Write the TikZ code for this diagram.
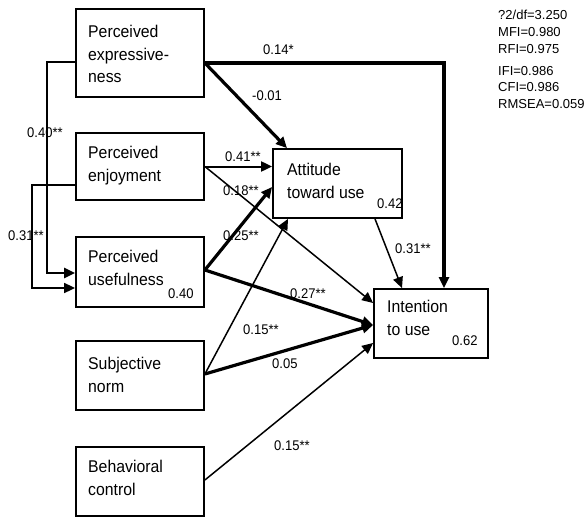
\documentclass[tikz,border=0pt]{standalone}
\usepackage{fontspec}
\setmainfont{Liberation Sans}
\newfontfamily\narrowfont[FakeStretch=0.93]{Liberation Sans}
\usetikzlibrary{arrows.meta}
\begin{document}
\begin{tikzpicture}[x=1pt, y=-1pt,
  varbox/.style={draw, line width=1.8pt, inner sep=0pt, minimum width=128pt},
  boxtext/.style={font=\narrowfont\fontsize{17}{22.5}\selectfont, align=left, inner sep=0pt, anchor=north west},
  coef/.style={font=\narrowfont\fontsize{14}{14}\selectfont, inner sep=0pt, anchor=base west},
  fitstat/.style={font=\fontsize{13}{13}\selectfont, inner sep=0pt, anchor=base west},
  tipshape/.style={-{Triangle[length=11pt, width=10pt]}},
  thinpath/.style={tipshape, line width=1.5pt},
  thickpath/.style={tipshape, line width=3.2pt},
]
\useasboundingbox (0,0) rectangle (586,519);

% construct boxes
\node[varbox, minimum height=88pt] (pe) at (140,53) {};
\node[varbox, minimum height=67pt] (penj) at (140,166.5) {};
\node[varbox, minimum height=70pt] (pu) at (140,272) {};
\node[varbox, minimum height=69pt] (sn) at (140,375.5) {};
\node[varbox, minimum height=69pt] (bc) at (140,481.5) {};
\node[varbox, minimum width=129pt, minimum height=69pt] (att) at (337.5,183.5) {};
\node[varbox, minimum width=114pt, minimum height=69pt] (int) at (431,323.5) {};

% box captions
\node[boxtext] (peT) at (88,25) {Perceived\\expressive-\\ness};
\node[boxtext] (penjT) at (88,146) {Perceived\\enjoyment};
\node[boxtext] (puT) at (88,250) {Perceived\\usefulness};
\node[boxtext] (snT) at (88,357) {Subjective\\norm};
\node[boxtext] (bcT) at (88,460) {Behavioral\\control};
\node[boxtext] (attT) at (287,163) {Attitude\\toward use};
\node[boxtext] (intT) at (387,300) {Intention\\to use};

% explained variance
\node[coef] (puR) at (168,298) {0.40};
\node[coef] (attR) at (377,208) {0.42};
\node[coef] (intR) at (452,345) {0.62};

% paths between constructs
\draw[thickpath] ([yshift=-10pt]pe.east) -| ([xshift=13pt]int.north);
\draw[thickpath] ([yshift=-10pt]pe.east) -- ([xshift=-50.5pt]att.north);
\draw[tipshape, line width=2.3pt] ([yshift=-9pt]pe.west) -- ++(-28pt,0) |- ([yshift=-1pt]pu.west);
\draw[tipshape, line width=1.7pt] ([yshift=-18.5pt]penj.west) -- ++(-43pt,0) |- ([yshift=-16pt]pu.west);
\draw[thinpath, line width=2pt] (penj.east) -- (penj.east -| att.west);
\draw[thinpath] (penj.east) -- ([yshift=20.5pt]int.west);
\draw[thickpath] ([yshift=2pt]pu.east) -- ([yshift=-3.5pt]att.west);
\draw[thickpath] ([yshift=2pt]pu.east) -- ([yshift=-1.5pt]int.west);
\draw[thinpath] ([yshift=1.5pt]sn.east) -- ([xshift=-49.5pt]att.south);
\draw[thickpath] ([yshift=1.5pt]sn.east) -- ([yshift=-1.5pt]int.west);
\draw[thinpath] ([yshift=1.5pt]bc.east) -- ([yshift=-19.5pt]int.west);
\draw[thinpath] ([xshift=37.5pt]att.south) -- ([xshift=-29pt]int.north);

% path coefficients
\node[coef] (c1) at (263,55) {0.14*};
\node[coef] (c2) at (252,100) {-0.01};
\node[coef] (c3) at (27,137) {0.40**};
\node[coef] (c4) at (225,161) {0.41**};
\node[coef] (c5) at (223,195) {0.18**};
\node[coef] (c6) at (8,240) {0.31**};
\node[coef] (c7) at (223,240) {0.25**};
\node[coef] (c8) at (290,298) {0.27**};
\node[coef] (c9) at (243,334) {0.15**};
\node[coef] (c10) at (272,368) {0.05};
\node[coef] (c11) at (274,450) {0.15**};
\node[coef] (c12) at (395,253) {0.31**};

% fit indices
\node[fitstat] (f1) at (498,20) {?2/df=3.250};
\node[fitstat] (f2) at (498,37) {MFI=0.980};
\node[fitstat] (f3) at (498,53) {RFI=0.975};
\node[fitstat] (f4) at (498,75) {IFI=0.986};
\node[fitstat] (f5) at (498,92) {CFI=0.986};
\node[fitstat] (f6) at (498,108) {RMSEA=0.059};
\end{tikzpicture}
\end{document}
